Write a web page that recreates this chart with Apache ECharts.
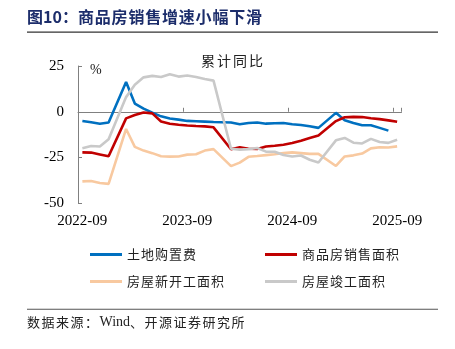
<!DOCTYPE html>
<html>
<head>
<meta charset="utf-8">
<script src="https://cdn.jsdelivr.net/npm/echarts@6/dist/echarts.min.js"></script>
<style>
html,body{margin:0;padding:0;background:#fff;}
#c{width:455px;height:349px;}
</style>
</head>
<body>
<div id="c"></div>
<script>
// ---- data ----
var categories = [
  '2022-09','2022-10','2022-11','2022-12',
  '2023-01','2023-02','2023-03','2023-04','2023-05','2023-06','2023-07','2023-08','2023-09','2023-10','2023-11','2023-12',
  '2024-01','2024-02','2024-03','2024-04','2024-05','2024-06','2024-07','2024-08','2024-09','2024-10','2024-11','2024-12',
  '2025-01','2025-02','2025-03','2025-04','2025-05','2025-06','2025-07','2025-08','2025-09'
];
var landPurchase = [
  -5.0,-5.7,-6.5,-5.9,
  null,16.3,4.5,1.7,-0.5,-2.5,-3.7,-4.3,-5.0,-5.2,-5.4,-5.6,
  null,-5.9,-6.8,-6.1,-5.9,-6.5,-6.3,-6.1,-6.8,-7.2,-7.9,-8.8,
  null,-0.6,-4.6,-6.1,-7.4,-7.4,-8.8,-10.3,null
];
var salesArea = [
  -22.2,-22.3,-23.3,-24.3,
  null,-3.6,-1.8,-0.4,-0.9,-5.3,-6.5,-7.1,-7.5,-7.8,-8.0,-8.5,
  null,-20.5,-19.4,-20.2,-20.3,-19.0,-18.6,-18.0,-17.1,-15.8,-14.3,-12.9,
  null,-5.1,-3.0,-2.8,-2.9,-3.5,-4.0,-4.7,-5.5
];
var newStarts = [
  -38.0,-37.8,-38.9,-39.4,
  null,-9.4,-19.2,-21.2,-22.6,-24.3,-24.5,-24.4,-23.4,-23.2,-21.2,-20.4,
  null,-29.7,-27.8,-24.6,-24.2,-23.7,-23.2,-22.5,-22.2,-22.6,-23.0,-23.0,
  null,-29.6,-24.4,-23.8,-22.8,-20.0,-19.4,-19.5,-18.9
];
var completions = [
  -19.9,-18.7,-19.0,-15.0,
  null,8.0,14.7,18.8,19.6,19.0,20.5,19.2,19.8,19.0,17.9,17.0,
  null,-20.2,-20.7,-20.4,-19.8,-21.8,-21.8,-23.6,-24.4,-23.9,-26.2,-27.7,
  null,-15.6,-14.3,-16.9,-17.3,-14.8,-16.5,-17.0,-15.3
];
var seriesNames = ['土地购置费','商品房销售面积','房屋新开工面积','房屋竣工面积'];
var yTicks = {min:-50, max:25, interval:25};
var titleText = '图10：商品房销售增速小幅下滑';
var noteText = '累计同比';
var unitText = '%';
var sourceText = '数据来源：Wind、开源证券研究所';

// ---- chart ----
var SERIF = '"Liberation Serif","Times New Roman","Noto Sans CJK SC",serif';
var CJK = '"Noto Sans CJK SC","Liberation Serif",sans-serif';
function spaced(s, key){
  return s.split('').map(function(ch){ return '{'+key+'|'+ch+'}'; }).join('');
}
var colors = ['#0070c0','#c00000','#f8c9a0','#c9c9c9'];
var datasets = [landPurchase, salesArea, newStarts, completions];

var chart = echarts.init(document.getElementById('c'), null, {renderer:'canvas'});
var legendText = {
  rich:{ c:{ width:14, fontSize:13, fontFamily:CJK, color:'#222', lineHeight:14 } }
};
var option = {
  animation:false,
  backgroundColor:'#fff',
  grid:{left:78, right:53.5, top:66, bottom:145.7, containLabel:false},
  xAxis:[{
    type:'category', data:categories, boundaryGap:true, position:'bottom',
    axisLine:{show:false, onZero:false},
    axisTick:{show:false},
    axisLabel:{interval:11, margin:10, fontSize:15, fontFamily:SERIF, color:'#000'},
    splitLine:{show:false}
  },{
    type:'category', data:categories, boundaryGap:true, position:'bottom',
    axisLine:{show:true, onZero:true, lineStyle:{color:'#808080', width:1}},
    axisTick:{show:true, inside:true, interval:11, length:4, lineStyle:{color:'#808080'}},
    axisLabel:{show:false},
    splitLine:{show:false}
  }],
  yAxis:{
    type:'value', min:yTicks.min, max:yTicks.max, interval:yTicks.interval,
    axisLine:{show:true, lineStyle:{color:'#808080', width:1}},
    axisTick:{show:true, inside:true, length:4, lineStyle:{color:'#808080'}},
    axisLabel:{margin:14, fontSize:15, fontFamily:SERIF, color:'#000'},
    splitLine:{show:false}
  },
  legend:[{
    data:[seriesNames[0], seriesNames[2]],
    orient:'vertical', left:85, top:243, itemWidth:32, itemHeight:3, itemGap:14,
    icon:'rect', formatter:function(n){return spaced(n,'c');}, textStyle:legendText
  },{
    data:[seriesNames[1], seriesNames[3]],
    orient:'vertical', left:260, top:243, itemWidth:32, itemHeight:3, itemGap:14,
    icon:'rect', formatter:function(n){return spaced(n,'c');}, textStyle:legendText
  }],
  series: seriesNames.map(function(n,i){
    return {
      name:n, type:'line', data:datasets[i], xAxisIndex:0,
      showSymbol:false, symbol:'none', connectNulls:true,
      lineStyle:{color:colors[i], width:2.6},
      itemStyle:{color:colors[i]}
    };
  }),
  graphic:[
    {type:'text', left:27, top:9, style:{
      text: '{a|图10：}' + spaced('商品房销售增速小幅下滑','b'),
      rich:{
        a:{fontSize:16, fontWeight:'bold', fontFamily:CJK, fill:'#1c2d6b', width:51},
        b:{fontSize:16, fontWeight:'bold', fontFamily:CJK, fill:'#1c2d6b', width:16.8}
      }
    }},
    {type:'rect', shape:{x:27, y:31.5, width:411, height:1.2}, style:{fill:'#333'}},
    {type:'text', left:201, top:54, style:{
      text: spaced(noteText,'n'),
      rich:{ n:{fontSize:14, fontFamily:CJK, fill:'#222', width:16} }
    }},
    {type:'text', left:90, top:63, style:{text:unitText, fontSize:14, fontFamily:SERIF, fill:'#222'}},
    {type:'rect', shape:{x:27, y:308.8, width:411, height:1}, style:{fill:'#555'}},
    {type:'text', left:27, top:315, style:{
      text: spaced('数据来源：','s') + '{w|Wind}' + spaced('、开源证券研究所','s'),
      rich:{
        s:{fontSize:13, fontFamily:CJK, fill:'#222', width:14.5},
        w:{fontSize:14, fontFamily:SERIF, fill:'#222'}
      }
    }}
  ]
};
chart.setOption(option);
</script>
</body>
</html>
